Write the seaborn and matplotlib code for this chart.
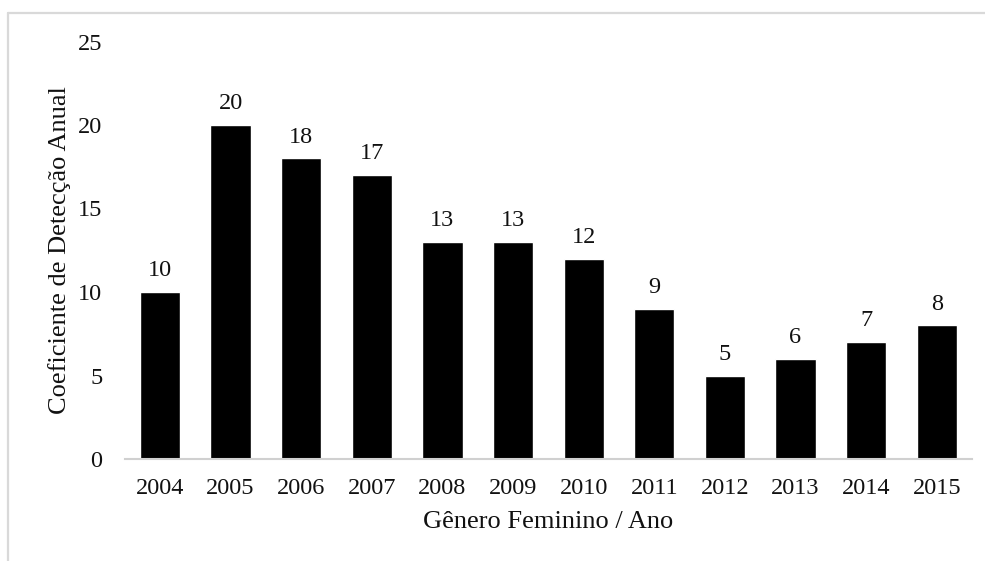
import matplotlib
matplotlib.use("Agg")
import matplotlib.pyplot as plt
import seaborn as sns
import pandas as pd
from matplotlib.lines import Line2D

years = ["2004", "2005", "2006", "2007", "2008", "2009", "2010",
         "2011", "2012", "2013", "2014", "2015"]
coef = [10, 20, 18, 17, 13, 13, 12, 9, 5, 6, 7, 8]
y_ticks = [0, 5, 10, 15, 20, 25]

df = pd.DataFrame({"ano": years, "coef": coef})

sns.set_theme(style="white")
plt.rcParams["font.family"] = ["Liberation Serif", "DejaVu Serif"]

W, H = 985, 561
fig = plt.figure(figsize=(W / 100, H / 100), dpi=100)
ax = fig.add_axes([124.7 / W, 102 / H, 847.3 / W, 417.5 / H])

sns.barplot(data=df, x="ano", y="coef", color="black", width=0.57,
            saturation=1, ax=ax)

num_size = 17.5
for p, v in zip(ax.patches, coef):
    ax.text(p.get_x() + p.get_width() / 2, v + 0.65, f"{v}",
            ha="center", va="bottom", fontsize=num_size, color="#111111")

ax.set_ylim(0, 25)
ax.set_yticks(y_ticks)
ax.set_xlim(-0.5, len(years) - 0.5)
ax.tick_params(axis="both", labelsize=num_size, colors="#111111", length=0)
ax.tick_params(axis="y", pad=16)
ax.tick_params(axis="x", pad=13.5)

ax.set_xlabel("Gênero Feminino / Ano", fontsize=19, color="#111111", labelpad=9)
ax.set_ylabel("Coeficiente de Detecção Anual", fontsize=19, color="#111111",
              labelpad=5)

for side in ["top", "right", "left"]:
    ax.spines[side].set_visible(False)
ax.spines["bottom"].set_color("#d0d0d0")
ax.spines["bottom"].set_linewidth(1.5)

# light frame lines along the top and left of the chart area
frame_kw = dict(transform=fig.transFigure, color="#d9d9d9", linewidth=1.6)
fig.add_artist(Line2D([8 / W, 1.0], [1 - 13 / H, 1 - 13 / H], **frame_kw))
fig.add_artist(Line2D([8 / W, 8 / W], [0.0, 1 - 13 / H], **frame_kw))

fig.savefig("out.png", dpi=100)
